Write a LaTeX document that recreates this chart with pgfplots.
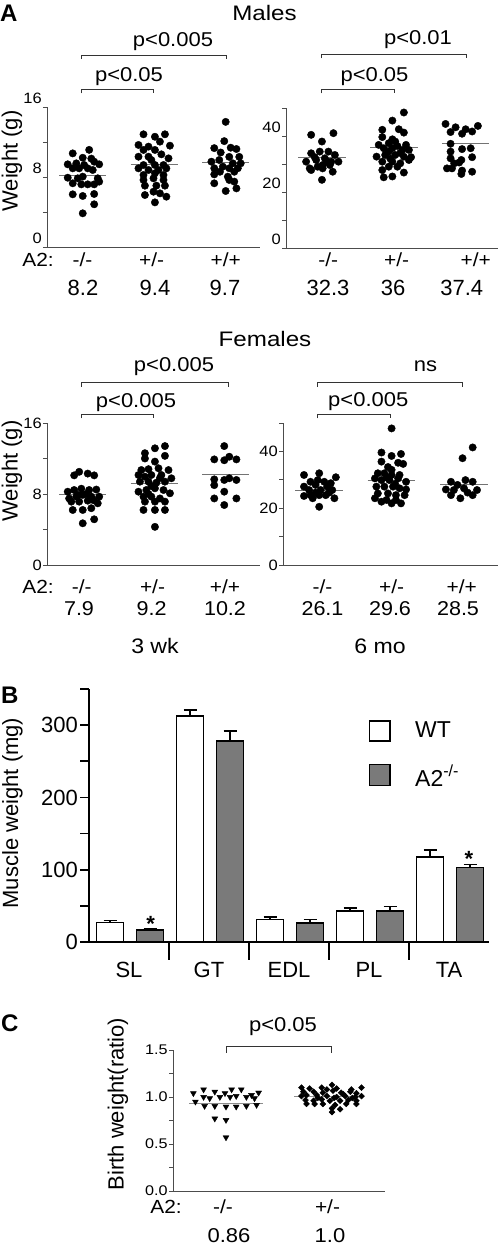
\documentclass[border=0pt]{standalone}
\usepackage{fontspec}
\setmainfont{Liberation Sans}
\usepackage{pgfplots}
\pgfplotsset{compat=1.18}
\newcommand{\fs}[1]{\fontsize{#1}{#1}\selectfont}
\pgfplotsset{
  dotax/.style={
    scale only axis, anchor=south west, clip=false,
    axis x line=bottom, axis y line=left,
    axis line style={-, draw=black!70, line width=0.9pt},
    xtick=\empty, xmin=0.5, ymin=0,
    tick align=outside, major tick length=4pt, minor tick length=4pt,
    tick style={black!70, line width=0.9pt},
    yticklabel style={font=\fs{15}, xscale=1.1, inner sep=1pt},
    /pgf/number format/assume math mode=true,
  },
  dot/.style={only marks, mark=*, mark size=3.7pt, mark options={draw=black, fill=black}},
  mline/.style={no marks, black!55, line width=1pt},
  barerr/.style={error bars/.cd, y dir=plus, y explicit,
    error bar style={line width=1.6pt, black},
    error mark=-,
    error mark options={rotate=90, mark size=6.5pt, line width=1.6pt, black}},
}
\tikzset{
  t/.style={font=\fs{19}, xscale=1.1, inner sep=0pt, anchor=base},
  pv/.style={font=\fs{20}, xscale=1.1, inner sep=0pt, anchor=base},
  br/.style={black!80, line width=0.8pt},
}
\begin{document}
\begin{tikzpicture}
\path[use as bounding box] (0pt,0pt) rectangle (498pt,-1246pt);

% ---------------- Panel A: Males 3 wk
\begin{axis}[dotax, at={(47pt,-247pt)}, width=213pt, height=140pt,
  xmax=3.48, ymax=16, ytick={0,8,16}, minor ytick={4,12},
  yticklabel style={yshift=9pt}]
\addplot[dot] coordinates {(1.09,11.1) (0.86,10.7) (1.0,10.2) (1.12,10.1) (0.79,9.45) (0.91,9.56) (1.02,9.37) (1.16,9.75) (1.23,9.45) (0.86,8.99) (0.95,8.99) (1.07,8.99) (1.14,8.8) (0.79,7.92) (0.93,7.85) (1.0,8.04) (1.21,7.85) (0.86,7.28) (0.98,7.16) (1.07,7.16) (1.16,7.16) (1.23,7.47) (0.86,6.02) (1.0,5.83) (1.16,6.06) (1.16,4.88) (1.0,3.85)};
\addplot[dot] coordinates {(1.85,12.88) (2.01,12.6) (2.15,12.88) (1.78,11.66) (1.92,11.47) (2.08,12.04) (2.22,11.58) (2.01,11.09) (1.85,11.09) (1.78,10.32) (1.92,10.32) (2.10,10.59) (2.20,10.13) (1.96,9.94) (1.85,9.37) (2.01,9.37) (2.13,9.37) (1.78,8.99) (1.92,8.8) (2.06,8.8) (2.17,8.99) (1.85,8.23) (2.01,8.42) (2.13,8.23) (1.85,7.66) (1.99,7.85) (2.13,7.66) (1.87,7.01) (2.03,7.01) (2.15,7.01) (1.87,5.94) (1.99,6.32) (2.08,6.13) (2.17,5.75) (2.01,5.1)};
\addplot[dot] coordinates {(3.0,14.3) (2.98,12.1) (2.84,11.3) (3.07,11.35) (3.15,11.2) (2.93,10.8) (3.19,10.3) (2.8,9.75) (2.91,9.94) (3.05,10.3) (3.1,9.56) (3.21,9.56) (2.84,9.0) (2.96,9.18) (3.05,9.0) (3.17,9.0) (2.84,8.3) (3.03,8.04) (2.84,7.28) (3.05,7.66) (3.12,7.47) (3.0,6.4) (3.15,6.7) (3.12,8.6) (2.92,8.6)};
\addplot[mline] coordinates {(0.67,8.2) (1.33,8.2)};
\addplot[mline] coordinates {(1.67,9.4) (2.33,9.4)};
\addplot[mline] coordinates {(2.67,9.7) (3.33,9.7)};
\end{axis}

% ---------------- Panel A: Males 6 mo
\begin{axis}[dotax, at={(286pt,-248pt)}, width=212pt, height=139.7pt,
  xmax=3.45, ymax=50, ytick={0,20,40}, minor ytick={10,30,50},
  yticklabel style={yshift=9pt}]
\addplot[dot] coordinates {(0.85,40.5) (1.16,41.1) (1.0,38.1) (0.85,33.9) (0.97,34.5) (1.09,34.5) (1.18,33.3) (0.78,30.9) (0.92,31.5) (1.04,32.1) (1.13,30.9) (1.23,30.9) (0.83,28.5) (0.94,29.1) (1.01,29.7) (1.11,29.7) (0.85,27.9) (1.01,28.5) (1.15,27.3) (1.0,24.4) (1.07,31.0) (0.9,32.5)};
\addplot[dot] coordinates {(2.14,48.5) (1.98,45.6) (1.84,42.3) (2.07,42.5) (2.14,41.3) (1.84,39.7) (1.98,38.9) (1.79,36.9) (1.93,37.5) (2.02,38.1) (2.17,36.9) (1.86,35.7) (1.98,35.7) (2.12,35.1) (2.21,35.1) (1.76,32.7) (1.88,33.3) (2.02,33.3) (2.14,32.7) (2.24,32.5) (1.84,30.9) (1.98,30.9) (2.09,30.3) (2.21,31.5) (1.93,29.1) (2.05,29.1) (1.84,27.9) (2.14,27.0) (1.86,25.3) (1.98,25.6) (2.09,34.0) (1.93,34.5) (2.05,36.5) (1.95,32.0)};
\addplot[dot] coordinates {(2.72,44.4) (2.86,43.2) (3.0,42.5) (3.09,41.7) (3.17,43.7) (2.79,41.5) (2.95,40.9) (2.79,37.3) (2.95,35.4) (3.07,35.7) (2.79,34.5) (2.79,32.1) (2.94,31.5) (3.09,32.5) (2.84,30.3) (2.91,30.6) (2.81,28.5) (2.74,28.5) (2.95,27.7) (3.09,27.3) (2.94,26.5)};
\addplot[mline] coordinates {(0.67,32.3) (1.33,32.3)};
\addplot[mline] coordinates {(1.67,36) (2.33,36)};
\addplot[mline] coordinates {(2.67,37.4) (3.33,37.4)};
\end{axis}

% ---------------- Panel A: Females 3 wk
\begin{axis}[dotax, at={(47pt,-565pt)}, width=213pt, height=142pt,
  xmax=3.48, ymax=16, ytick={0,8,16}, minor ytick={4,12}]
\addplot[dot] coordinates {(0.88,10.1) (0.95,10.5) (1.07,10.3) (1.16,10.1) (0.79,8.26) (0.88,8.45) (0.98,8.6) (1.09,8.45) (1.19,8.5) (0.81,7.5) (0.91,7.7) (1.0,7.9) (1.12,7.7) (1.23,7.7) (0.84,7.14) (0.95,7.14) (1.07,7.25) (1.21,6.95) (0.86,6.2) (1.0,6.2) (1.12,6.4) (1.0,4.7) (1.16,5.15) (0.93,7.9) (1.05,8.0) (1.15,7.3)};
\addplot[dot] coordinates {(1.87,12.6) (2.01,13.15) (2.15,13.4) (1.87,12.0) (2.01,11.65) (2.15,12.3) (1.82,10.7) (1.92,10.8) (2.06,10.9) (2.2,10.7) (1.78,10.14) (1.87,9.95) (1.96,10.14) (2.1,10.14) (2.24,9.77) (1.8,9.39) (1.92,9.39) (2.03,9.27) (2.15,9.39) (1.78,8.26) (1.89,8.45) (2.01,8.64) (2.13,8.45) (2.22,8.08) (1.85,7.7) (1.96,7.7) (2.08,7.5) (1.87,7.14) (2.01,7.14) (2.15,7.14) (1.85,6.2) (2.01,6.2) (2.15,6.2) (2.01,4.3) (1.96,8.9) (2.08,9.8) (1.92,8.0)};
\addplot[dot] coordinates {(2.98,13.4) (2.84,11.9) (2.98,11.8) (3.05,12.2) (3.15,11.9) (2.84,9.65) (2.98,9.58) (3.05,9.77) (3.15,9.58) (2.84,9.0) (2.98,8.26) (2.84,7.5) (2.98,6.76) (3.15,7.5)};
\addplot[mline] coordinates {(0.67,7.9) (1.33,7.9)};
\addplot[mline] coordinates {(1.67,9.2) (2.33,9.2)};
\addplot[mline] coordinates {(2.67,10.2) (3.33,10.2)};
\end{axis}

% ---------------- Panel A: Females 6 mo
\begin{axis}[dotax, at={(283pt,-565pt)}, width=215pt, height=142pt,
  xmax=3.47, ymax=50, ytick={0,20,40}, minor ytick={10,30,50}]
\addplot[dot] coordinates {(0.79,31.7) (1.0,32.3) (1.23,30.9) (0.88,29.3) (0.98,29.9) (1.07,29.3) (1.16,28.8) (0.79,27.6) (0.95,28.2) (1.11,27.6) (0.86,26.4) (1.02,26.4) (1.18,26.4) (0.79,24.3) (0.91,23.5) (1.0,24.6) (1.09,24.6) (1.21,23.5) (1.0,20.5) (0.88,24.6) (1.14,25.5) (0.95,25.5)};
\addplot[dot] coordinates {(2.0,48.1) (1.86,39.6) (2.0,38.4) (2.13,39.1) (1.86,36.4) (2.09,36.0) (2.16,35.6) (2.0,33.5) (1.81,32.3) (1.9,32.3) (2.0,31.7) (2.11,31.7) (1.77,30.5) (1.86,29.9) (1.97,29.9) (2.09,30.5) (2.2,29.3) (1.79,27.6) (1.9,27.6) (2.02,27.6) (2.11,27.0) (2.2,26.6) (1.81,25.2) (1.95,25.2) (2.06,24.6) (2.18,24.6) (1.77,23.5) (1.86,22.3) (2.0,21.7) (2.13,21.7) (1.93,22.9) (2.06,22.9) (1.95,34.5) (2.05,28.5) (1.93,30.8)};
\addplot[dot] coordinates {(3.12,41.4) (2.98,37.6) (2.82,29.3) (2.91,28.2) (3.02,29.9) (3.12,29.3) (2.75,26.6) (2.86,26.4) (3.0,27.0) (3.18,26.4) (2.82,24.6) (2.95,23.5) (3.12,24.6) (3.05,25.5)};
\addplot[mline] coordinates {(0.67,26.1) (1.33,26.1)};
\addplot[mline] coordinates {(1.67,29.6) (2.33,29.6)};
\addplot[mline] coordinates {(2.67,28.5) (3.33,28.5)};
\end{axis}

% ---- Panel A annotations
\node[font=\bfseries\fs{24}, anchor=base west, inner sep=0pt] at (0pt,-22pt) {A};
\node[font=\fs{21}, xscale=1.15, inner sep=0pt, anchor=base] at (264.5pt,-21pt) {Males};
\node[font=\fs{21}, xscale=1.15, inner sep=0pt, anchor=base] at (265pt,-346.7pt) {Females};
\node[rotate=90, font=\fs{22}] at (12pt,-161pt) {Weight (g)};
\node[rotate=90, font=\fs{22}] at (12pt,-471pt) {Weight (g)};
% brackets males
\draw[br] (81.7pt,-93.3pt) -- (81.7pt,-89.3pt) -- (153.3pt,-89.3pt) -- (153.3pt,-93.3pt);
\draw[br] (81.7pt,-59pt) -- (81.7pt,-55pt) -- (226.7pt,-55pt) -- (226.7pt,-59pt);
\draw[br] (321pt,-93.3pt) -- (321pt,-89.3pt) -- (394pt,-89.3pt) -- (394pt,-93.3pt);
\draw[br] (321pt,-58.3pt) -- (321pt,-54.3pt) -- (466.7pt,-54.3pt) -- (466.7pt,-58.3pt);
\node[pv] at (129pt,-81.7pt) {p<0.05};
\node[pv] at (173pt,-46.7pt) {p<0.005};
\node[pv] at (374.5pt,-81.7pt) {p<0.05};
\node[pv] at (418pt,-45pt) {p<0.01};
% brackets females
\draw[br] (81pt,-418.3pt) -- (81pt,-414pt) -- (153.3pt,-414pt) -- (153.3pt,-418.3pt);
\draw[br] (81pt,-386.7pt) -- (81pt,-382.3pt) -- (228.3pt,-382.3pt) -- (228.3pt,-386.7pt);
\draw[br] (317.3pt,-418.3pt) -- (317.3pt,-414pt) -- (390pt,-414pt) -- (390pt,-418.3pt);
\draw[br] (317.3pt,-386.7pt) -- (317.3pt,-382.3pt) -- (462.3pt,-382.3pt) -- (462.3pt,-386.7pt);
\node[pv] at (136pt,-407.3pt) {p<0.005};
\node[pv] at (174pt,-371.7pt) {p<0.005};
\node[pv] at (368.3pt,-406pt) {p<0.005};
\node[pv] at (425.5pt,-371pt) {ns};
% genotype rows males
\node[t] at (38pt,-266.7pt) {A2:};
\node[t] at (82.5pt,-266.7pt) {-/-};
\node[t] at (151.7pt,-266.7pt) {+/-};
\node[t] at (225.8pt,-266.7pt) {+/+};
\node[t] at (328.3pt,-266.7pt) {-/-};
\node[t] at (396.7pt,-266.7pt) {+/-};
\node[t] at (475.8pt,-266.7pt) {+/+};
\node[font=\fs{22}, inner sep=0pt, anchor=base] at (83pt,-295pt) {8.2};
\node[font=\fs{22}, inner sep=0pt, anchor=base] at (155pt,-295pt) {9.4};
\node[font=\fs{22}, inner sep=0pt, anchor=base] at (225pt,-295pt) {9.7};
\node[font=\fs{22}, inner sep=0pt, anchor=base] at (328pt,-295pt) {32.3};
\node[font=\fs{22}, inner sep=0pt, anchor=base] at (393pt,-295pt) {36};
\node[font=\fs{22}, inner sep=0pt, anchor=base] at (461.7pt,-295pt) {37.4};
% genotype rows females
\node[t] at (38pt,-593pt) {A2:};
\node[t] at (81.7pt,-593pt) {-/-};
\node[t] at (152.5pt,-593pt) {+/-};
\node[t] at (225pt,-593pt) {+/+};
\node[t] at (322.5pt,-593pt) {-/-};
\node[t] at (391.7pt,-593pt) {+/-};
\node[t] at (461.7pt,-593pt) {+/+};
\node[t, font=\fs{20}, xscale=0.98] at (79pt,-615pt) {7.9};
\node[t, font=\fs{20}, xscale=0.98] at (151.7pt,-615pt) {9.2};
\node[t, font=\fs{20}, xscale=0.98] at (225pt,-615pt) {10.2};
\node[t, font=\fs{20}, xscale=0.98] at (322.5pt,-615pt) {26.1};
\node[t, font=\fs{20}, xscale=0.98] at (390pt,-615pt) {29.6};
\node[t, font=\fs{20}, xscale=0.98] at (458pt,-615pt) {28.5};
\node[font=\fs{21}, xscale=1.1, inner sep=0pt, anchor=base] at (155pt,-653pt) {3 wk};
\node[font=\fs{21}, xscale=1.1, inner sep=0pt, anchor=base] at (380pt,-653pt) {6 mo};

% ---------------- Panel B
\begin{axis}[scale only axis, anchor=south west, clip=false,
  at={(89pt,-942pt)}, width=400pt, height=253pt,
  xmin=0, xmax=5, ymin=0, ymax=350,
  axis x line=bottom, axis y line=left,
  axis line style={-, draw=black, line width=1.6pt},
  xtick=\empty, ytick={0,100,200,300}, minor ytick={50,150,250,350},
  tick align=outside, major tick length=9pt, minor tick length=9pt,
  tick style={black, line width=1.6pt},
  yticklabel style={font=\fs{22}, inner sep=2pt},
  /pgf/number format/assume math mode=true]
\addplot[ybar, bar width=26.7pt, bar shift=0pt, fill=white, draw=black, line width=1.6pt, barerr]
  coordinates {(0.2625,27) +- (0,3) (1.2625,313) +- (0,8) (2.2625,31) +- (0,4) (3.2625,43) +- (0,4) (4.2625,118) +- (0,9)};
\addplot[ybar, bar width=26.7pt, bar shift=0pt, fill=black!52, draw=black, line width=1.6pt, barerr]
  coordinates {(0.7625,17) +- (0,1.5) (1.7625,278) +- (0,14) (2.7625,26) +- (0,5) (3.7625,43) +- (0,6) (4.7625,103) +- (0,4)};
\end{axis}
\foreach \xx in {169,249,329,409} {\draw[line width=1.6pt] (\xx pt,-942pt) -- (\xx pt,-960pt);}
\node[font=\bfseries\fs{24}, anchor=base west, inner sep=0pt] at (1pt,-703.3pt) {B};
\node[rotate=90, font=\fs{22}] at (12.5pt,-813pt) {Muscle weight (mg)};
\node[font=\fs{22}, anchor=base, inner sep=0pt] at (129pt,-977pt) {SL};
\node[font=\fs{22}, anchor=base, inner sep=0pt] at (209pt,-977pt) {GT};
\node[font=\fs{22}, anchor=base, inner sep=0pt] at (289pt,-977pt) {EDL};
\node[font=\fs{22}, anchor=base, inner sep=0pt] at (369pt,-977pt) {PL};
\node[font=\fs{22}, anchor=base, inner sep=0pt] at (449pt,-977pt) {TA};
\node[font=\bfseries\fs{22}, anchor=base, inner sep=0pt] at (150.7pt,-931.5pt) {*};
\node[font=\bfseries\fs{22}, anchor=base, inner sep=0pt] at (469pt,-866pt) {*};
\draw[line width=1.6pt, fill=white] (369.3pt,-720.7pt) rectangle (390pt,-741pt);
\draw[line width=1.6pt, fill=black!52] (369.3pt,-764.3pt) rectangle (390pt,-785.3pt);
\node[font=\fs{23}, anchor=base west, inner sep=0pt] at (415pt,-737.7pt) {WT};
\node[font=\fs{23}, anchor=base west, inner sep=0pt] at (415pt,-786pt) {A2\textsuperscript{-/-}};

% ---------------- Panel C
\begin{axis}[dotax, at={(173pt,-1191pt)}, width=212pt, height=141pt,
  xmin=0.48, xmax=2.56, ymax=1.5, ytick={0,0.5,1,1.5}, minor ytick={0.25,0.75,1.25},
  yticklabel style={font=\fs{14}, xscale=1.05, /pgf/number format/.cd, fixed, fixed zerofill, precision=1}]
\addplot[only marks, mark=triangle*, mark size=3.4pt, mark options={rotate=180, draw=black, fill=black}] coordinates {(0.68,1.04) (0.78,1.08) (0.89,1.056) (0.99,1.04) (1.055,1.08) (1.15,1.08) (1.25,1.02) (1.32,1.046) (0.7,0.95) (0.78,1.0) (0.84,0.986) (0.94,1.0) (1.04,1.0) (1.1,1.01) (1.2,1.0) (1.28,0.986) (0.79,0.904) (0.89,0.904) (1.0,0.897) (1.1,0.897) (1.2,0.904) (1.3,0.915) (0.89,0.77) (1.0,0.755) (1.0,0.57)};
\addplot[only marks, mark=square*, mark size=2.1pt, mark options={rotate=45, draw=black, fill=black}] coordinates {(1.74,1.10) (1.82,1.09) (1.94,1.10) (2.04,1.128) (2.085,1.09) (2.23,1.08) (2.33,1.10) (1.76,1.056) (1.86,1.056) (1.95,1.046) (2.05,1.067) (2.13,1.046) (2.22,1.056) (2.28,1.04) (1.74,1.01) (1.79,1.02) (1.89,1.02) (1.99,1.01) (2.085,1.0) (2.17,1.01) (2.27,1.0) (2.33,1.01) (1.78,0.968) (1.86,0.96) (1.94,0.975) (2.02,0.96) (2.12,0.96) (2.2,0.968) (2.28,0.96) (1.79,0.926) (1.87,0.926) (1.95,0.926) (2.07,0.915) (2.18,0.926) (2.28,0.926) (2.04,0.88) (2.12,0.87) (2.04,0.84) (1.99,1.08) (2.15,1.03) (1.9,0.99) (2.06,0.99) (2.24,0.99)};
\addplot[mline, black!45] coordinates {(0.64,0.93) (1.36,0.93)};
\addplot[mline, black!45] coordinates {(1.67,1.01) (2.33,1.01)};
\end{axis}
\node[font=\bfseries\fs{24}, anchor=base west, inner sep=0pt] at (1pt,-1031.7pt) {C};
\node[rotate=90, font=\fs{22}] at (118pt,-1104pt) {Birth weight(ratio)};
\draw[br] (226pt,-1052.7pt) -- (226pt,-1046.7pt) -- (331.7pt,-1046.7pt) -- (331.7pt,-1052.7pt);
\node[pv] at (283pt,-1031.7pt) {p<0.05};
\node[t] at (166pt,-1213pt) {A2:};
\node[t] at (223pt,-1213pt) {-/-};
\node[t] at (327.5pt,-1213pt) {+/-};
\node[pv] at (229pt,-1242pt) {0.86};
\node[pv] at (330pt,-1242pt) {1.0};
\end{tikzpicture}
\end{document}
